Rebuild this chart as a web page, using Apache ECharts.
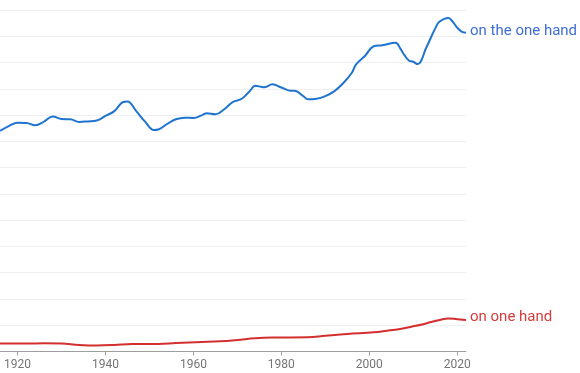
<!DOCTYPE html>
<html>
<head>
<meta charset="utf-8">
<script src="https://cdn.jsdelivr.net/npm/echarts@6/dist/echarts.min.js"></script>
<style>
html,body{margin:0;padding:0;background:#fff;}
#chart{width:580px;height:373px;}
</style>
</head>
<body>
<div id="chart"></div>
<script>
// Data (values in gridline units)
const seriesNames = ["on the one hand", "on one hand"];
const tickYears = [1920, 1940, 1960, 1980, 2000, 2020];

const blueYears = [1916,1918,1920,1922,1924,1926,1928,1930,1932,1934,1936,1938,1940,1942,1944,1945,1947,1949,1951,1952,1954,1956,1958,1960,1962,1963,1965,1967,1969,1971,1973,1974,1976,1978,1980,1982,1983,1985,1986,1988,1990,1992,1994,1996,1997,1999,2001,2003,2006,2007,2008,2009,2010,2011,2013,2015,2016,2018,2019,2020,2021,2022];
const blueValues = [8.40,8.58,8.71,8.70,8.61,8.75,8.95,8.85,8.84,8.74,8.76,8.79,8.97,9.15,9.50,9.52,9.15,8.75,8.43,8.45,8.66,8.84,8.90,8.89,9.00,9.07,9.03,9.22,9.50,9.62,9.95,10.12,10.06,10.17,10.05,9.93,9.93,9.72,9.60,9.62,9.72,9.90,10.20,10.60,10.93,11.25,11.62,11.66,11.75,11.55,11.28,11.08,11.03,10.94,11.58,12.30,12.56,12.70,12.55,12.33,12.18,12.13];

const redYears = [1916,1922,1926,1930,1934,1938,1942,1946,1952,1956,1962,1966,1970,1974,1978,1986,1990,1995,2001,2004,2007,2010,2012,2014,2016,2018,2020,2022];
const redValues = [0.30,0.30,0.31,0.30,0.25,0.23,0.25,0.29,0.29,0.32,0.36,0.39,0.44,0.50,0.53,0.54,0.60,0.67,0.73,0.79,0.86,0.96,1.03,1.12,1.20,1.26,1.23,1.20];

const pairs = (xs, ys) => xs.map((x, i) => [x, ys[i]]);

const chart = echarts.init(document.getElementById('chart'), null, {renderer: 'canvas'});
chart.setOption({
  animation: false,
  backgroundColor: '#ffffff',
  grid: {left: -2, top: 10, width: 468, bottom: 21.5, containLabel: false},
  xAxis: {
    type: 'value',
    min: 1916,
    max: 2022,
    axisLine: {show: true, lineStyle: {color: '#9e9e9e', width: 1}},
    axisTick: {show: true, customValues: tickYears, length: 4, lineStyle: {color: '#9e9e9e'}},
    axisLabel: {show: true, customValues: tickYears, formatter: v => String(v), color: '#757575', fontSize: 12, fontFamily: 'Roboto', margin: 7},
    splitLine: {show: false}
  },
  yAxis: {
    type: 'value',
    min: 0,
    max: 13,
    interval: 1,
    axisLine: {show: false},
    axisTick: {show: false},
    axisLabel: {show: false},
    splitLine: {show: true, lineStyle: {color: '#efefef', width: 1}}
  },
  series: [
    {
      name: seriesNames[0],
      type: 'line',
      smooth: 0.4,
      showSymbol: false,
      data: pairs(blueYears, blueValues),
      lineStyle: {color: '#1f74d0', width: 2},
      itemStyle: {color: '#1f74d0'},
      endLabel: {show: true, formatter: '{a}', color: '#3f6fd6', fontSize: 15, fontFamily: 'Roboto', distance: 4, offset: [0, -2]}
    },
    {
      name: seriesNames[1],
      type: 'line',
      smooth: 0.4,
      showSymbol: false,
      data: pairs(redYears, redValues),
      lineStyle: {color: '#d32f2f', width: 2},
      itemStyle: {color: '#d32f2f'},
      endLabel: {show: true, formatter: '{a}', color: '#d63b3b', fontSize: 15, fontFamily: 'Roboto', distance: 4, offset: [0, -3]}
    }
  ]
});
</script>
</body>
</html>
